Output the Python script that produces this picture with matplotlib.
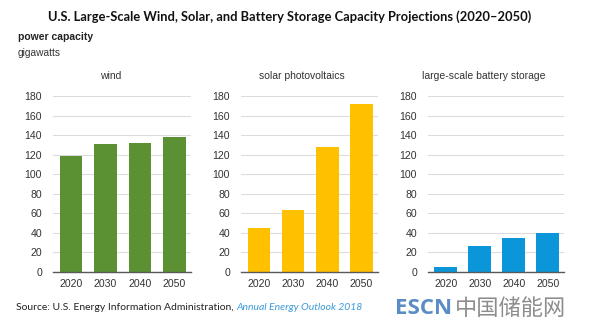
import matplotlib
matplotlib.use("Agg")
import matplotlib.pyplot as plt
import numpy as np

# data (gigawatts)
years = ["2020", "2030", "2040", "2050"]
wind = [119, 131, 132, 138]
solar = [45, 63, 128, 172]
battery = [5, 27, 35, 40]

panel_titles = ["wind", "solar photovoltaics", "large-scale battery storage"]
panel_colors = ["#5b9133", "#ffc000", "#0a96d8"]
yticks = list(range(0, 181, 20))

plt.rcParams["font.family"] = ["Liberation Sans", "DejaVu Sans"]

fig = plt.figure(figsize=(6.02, 3.30), dpi=100)
W, H = 602.0, 330.0

# axes boxes in pixels: (left, right)
boxes = [(53, 191), (241, 378), (428, 564)]
title_x = [111, 302, 484]
y_bottom, y_top = 272, 96

for vals, (l, r), col, ttl, tx in zip(
        [wind, solar, battery], boxes, panel_colors, panel_titles, title_x):
    ax = fig.add_axes([l / W, 1 - y_bottom / H, (r - l) / W, (y_bottom - y_top) / H])
    x = np.arange(len(years))
    ax.bar(x, vals, width=0.66, color=col, zorder=3)
    ax.set_xlim(-0.52, 3.48)
    ax.set_ylim(0, 180)
    ax.set_yticks(yticks)
    ax.set_xticks(x)
    ax.set_xticklabels(years)
    ax.grid(True, axis="y", color="#dcdcdc", linewidth=0.8, zorder=0)
    ax.set_axisbelow(True)
    for s in ["top", "right", "left"]:
        ax.spines[s].set_visible(False)
    ax.spines["bottom"].set_color("#595959")
    ax.spines["bottom"].set_linewidth(1.0)
    ax.spines["bottom"].set_zorder(4)
    ax.tick_params(axis="both", length=0, labelsize=7.6, colors="#333333")
    ax.tick_params(axis="y", pad=8)
    ax.tick_params(axis="x", pad=5)
    fig.text(tx / W, 1 - 76 / H, ttl, ha="center", va="center",
             fontsize=7.5, color="#333333")

fig.text(290 / W, 1 - 17 / H,
         "U.S. Large-Scale Wind, Solar, and Battery Storage Capacity Projections (2020\u20132050)",
         ha="center", va="center", fontsize=9.3, fontweight="bold",
         family=["Lato", "DejaVu Sans"], color="#111111")
fig.text(18 / W, 1 - 37 / H, "power capacity", ha="left", va="center",
         fontsize=7.5, fontweight="bold", color="#222222")
fig.text(18 / W, 1 - 53 / H, "gigawatts", ha="left", va="center",
         fontsize=7.3, color="#333333")

src = fig.text(16 / W, 1 - 307 / H,
               "Source: U.S. Energy Information Administration, ",
               ha="left", va="center", fontsize=7.5,
               family=["Lato", "DejaVu Sans"], color="#222222")
fig.canvas.draw()
bb = src.get_window_extent()
fig.text(bb.x1 / W, 1 - 307 / H, "Annual Energy Outlook 2018",
         ha="left", va="center", fontsize=7.5, style="italic",
         family=["Lato", "DejaVu Sans"], color="#3a9ad9")

esc = fig.text(395 / W, 1 - 308 / H, "ESCN", ha="left", va="center",
               fontsize=16, fontweight="bold", color="#5a8cc6",
               family=["Open Sans", "DejaVu Sans"])
fig.canvas.draw()
eb = esc.get_window_extent()
fig.text((eb.x1 + 3) / W, 1 - 308 / H, "中国储能网", ha="left", va="center",
         fontsize=16, color="#8c8c8c",
         family=["Noto Sans CJK SC", "DejaVu Sans"])

fig.savefig("out.png", dpi=100)
